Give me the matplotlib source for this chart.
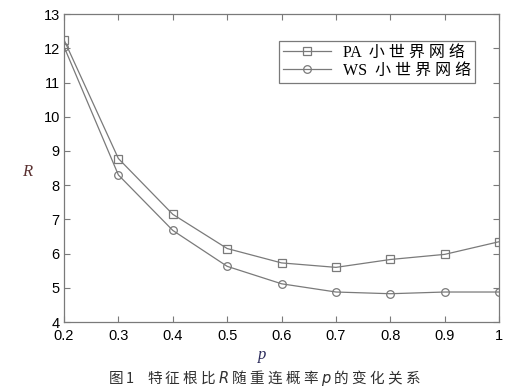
import matplotlib
matplotlib.use("Agg")
import matplotlib.pyplot as plt

p = [0.2, 0.3, 0.4, 0.5, 0.6, 0.7, 0.8, 0.9, 1.0]
R_pa = [12.25, 8.78, 7.15, 6.15, 5.73, 5.60, 5.83, 5.98, 6.35]
R_ws = [12.05, 8.30, 6.68, 5.63, 5.12, 4.88, 4.83, 4.88, 4.88]
labels = ["PA  小 世 界 网 络", "WS  小 世 界 网 络"]
xticks = [0.2, 0.3, 0.4, 0.5, 0.6, 0.7, 0.8, 0.9, 1]
xticklabels = ["0.2", "0.3", "0.4", "0.5", "0.6", "0.7", "0.8", "0.9", "1"]
yticks = list(range(4, 14))

plt.rcParams['font.family'] = ['Liberation Sans', 'Noto Sans CJK SC']
gray = '#7a7a7a'

fig = plt.figure(figsize=(5.2, 3.9), dpi=100)
ax = fig.add_axes([0.123, 0.174, 0.837, 0.79])
ax.plot(p, R_pa, color=gray, lw=0.9, marker='s', ms=5.5, mfc='none', mec=gray, mew=0.9, label=labels[0])
ax.plot(p, R_ws, color=gray, lw=0.9, marker='o', ms=5.5, mfc='none', mec=gray, mew=0.9, label=labels[1])
ax.set_xlim(0.2, 1)
ax.set_ylim(4, 13)
ax.set_xticks(xticks)
ax.set_xticklabels(xticklabels)
ax.set_yticks(yticks)
ax.tick_params(direction='in', top=True, right=True, length=4, color=gray, labelsize=10.5)
ax.tick_params(axis='x', pad=5)
ax.tick_params(axis='y', pad=3)
for s in ax.spines.values():
    s.set_color(gray)
    s.set_linewidth(0.9)
leg = ax.legend(loc='upper right', bbox_to_anchor=(0.962, 0.94), fancybox=False, framealpha=1,
                edgecolor=gray, handlelength=3.0, borderpad=0.25, labelspacing=0.15, handletextpad=0.7,
                prop={'family': ['Liberation Serif', 'Noto Sans CJK SC'], 'size': 11.5})
leg.get_frame().set_linewidth(0.9)
fig.text(0.053, 0.56, 'R', family='Liberation Serif', style='italic', fontsize=12, color='#5a3030', ha='center', va='center')
fig.text(0.504, 0.09, 'p', family='Liberation Serif', style='italic', fontsize=12, color='#2a2a5a', ha='center', va='center')
fig.text(0.508, 0.032, '图 1    特 征 根 比 $\\it{R}$ 随 重 连 概 率 $\\it{p}$ 的 变 化 关 系', family=['Noto Sans CJK SC'],
         fontsize=10.5, ha='center', va='center', color='#303030')
fig.savefig('out.png', dpi=100)
